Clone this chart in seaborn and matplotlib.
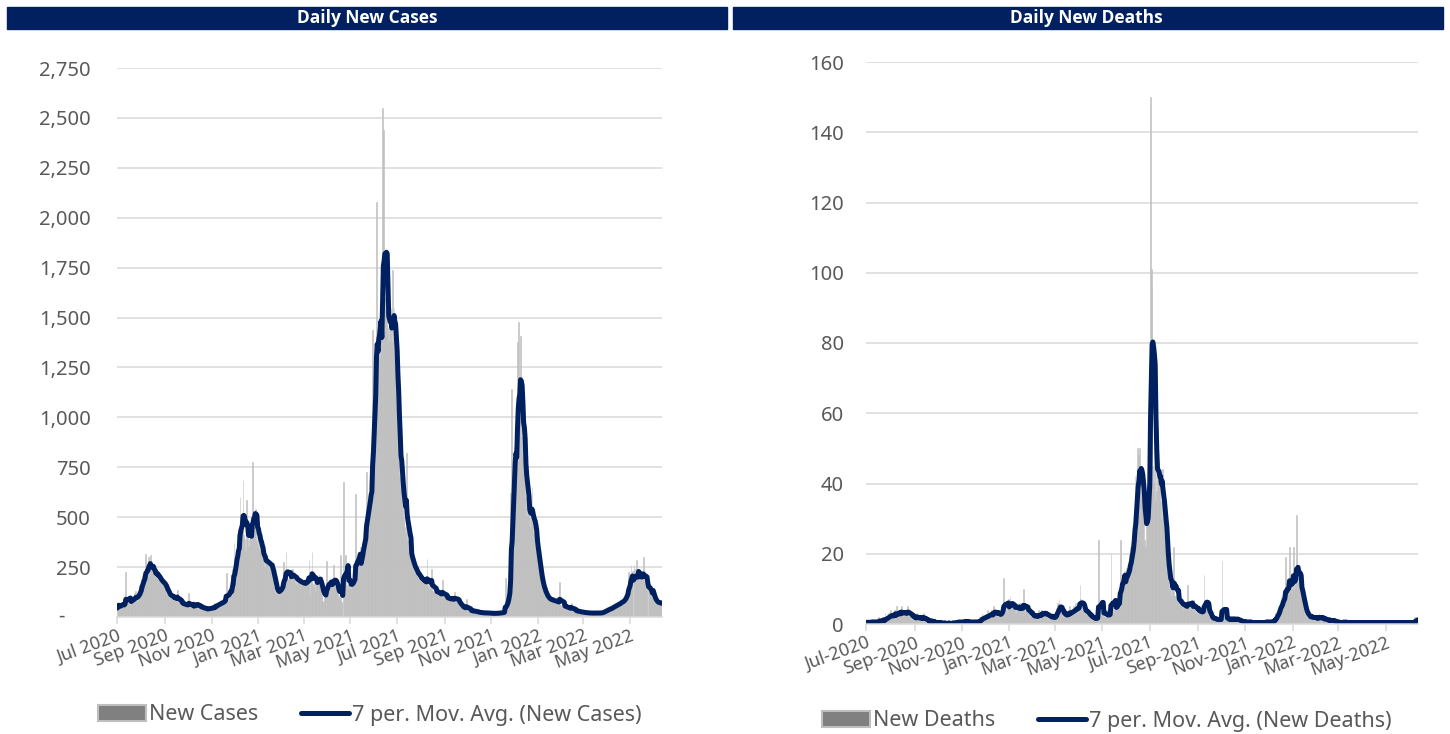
import numpy as np
import pandas as pd
import seaborn as sns
import matplotlib.pyplot as plt
import matplotlib.dates as mdates
from matplotlib.patches import Patch, Rectangle
from matplotlib.lines import Line2D

# daily values, one row = one week, first day 2020-07-01
start_date = "2020-07-01"

cases_daily = [
    45, 70, 62, 38, 55, 75, 68,
    60, 72, 55, 65, 225, 48, 70,
    78, 95, 62, 88, 102, 70, 90,
    92, 118, 85, 130, 96, 80, 112,
    125, 160, 148, 190, 210, 175, 185,
    205, 240, 318, 230, 265, 195, 300,
    255, 310, 225, 240, 215, 230, 205,
    225, 198, 240, 190, 215, 175, 192,
    180, 155, 190, 165, 178, 148, 170,
    140, 110, 125, 98, 130, 92, 112,
    105, 88, 115, 82, 96, 100, 80,
    92, 135, 70, 78, 85, 65, 72,
    70, 55, 68, 50, 75, 58, 60,
    65, 48, 122, 50, 55, 42, 45,
    60, 72, 55, 68, 58, 75, 50,
    55, 48, 62, 40, 52, 45, 50,
    42, 35, 48, 38, 45, 32, 40,
    50, 38, 55, 42, 48, 40, 42,
    55, 68, 50, 72, 58, 62, 55,
    70, 85, 65, 80, 78, 72, 75,
    90, 115, 220, 85, 95, 80, 105,
    140, 175, 210, 240, 195, 370, 150,
    300, 330, 420, 360, 390, 445, 602,
    480, 420, 520, 686, 410, 390, 330,
    586, 380, 430, 350, 390, 420, 400,
    460, 778, 520, 490, 440, 540, 380,
    420, 350, 480, 330, 360, 390, 310,
    300, 260, 290, 250, 310, 270, 280,
    290, 240, 265, 230, 280, 250, 265,
    180, 150, 130, 120, 145, 110, 145,
    125, 118, 140, 150, 165, 160, 195,
    277, 200, 190, 327, 210, 185, 190,
    230, 195, 220, 180, 240, 200, 205,
    200, 170, 210, 160, 190, 175, 190,
    180, 155, 185, 150, 175, 160, 185,
    170, 195, 160, 200, 180, 285, 110,
    200, 215, 327, 165, 150, 180, 128,
    210, 175, 200, 190, 215, 170, 170,
    120, 95, 80, 75, 140, 120, 140,
    280, 150, 165, 140, 160, 150, 180,
    190, 170, 260, 165, 175, 150, 150,
    120, 100, 110, 90, 310, 75, 70,
    0, 678, 190, 150, 310, 160, 140,
    175, 160, 190, 140, 185, 150, 170,
    200, 230, 250, 614, 210, 240, 200,
    280, 310, 350, 290, 340, 370, 380,
    420, 460, 480, 728, 510, 560, 520,
    600, 650, 700, 850, 1440, 1000, 1150,
    1250, 1350, 2080, 1300, 1180, 1420, 1300,
    1500, 1600, 1500, 2550, 2440, 1600, 1550,
    1500, 1650, 1450, 1420, 1380, 1500, 1450,
    1550, 1380, 1740, 1400, 1550, 1300, 1350,
    1050, 950, 900, 800, 700, 650, 600,
    878, 550, 500, 480, 450, 420, 820,
    380, 350, 330, 310, 300, 290, 270,
    260, 250, 240, 230, 220, 240, 210,
    200, 190, 220, 180, 190, 180, 190,
    170, 185, 175, 160, 170, 290, 150,
    165, 140, 160, 135, 240, 130, 125,
    140, 120, 135, 115, 125, 130, 110,
    120, 105, 115, 100, 185, 110, 95,
    100, 90, 105, 85, 95, 95, 90,
    85, 100, 80, 88, 92, 85, 127,
    80, 90, 75, 82, 78, 60, 55,
    50, 45, 55, 40, 48, 45, 40,
    90, 35, 38, 30, 35, 30, 28,
    35, 25, 30, 32, 26, 28, 24,
    26, 22, 25, 20, 23, 22, 20,
    24, 18, 21, 19, 22, 20, 18,
    22, 17, 20, 19, 18, 18, 20,
    17, 19, 16, 21, 18, 20, 18,
    22, 19, 21, 24, 20, 22, 25,
    24, 30, 195, 40, 60, 80, 110,
    150, 200, 620, 1140, 350, 800, 750,
    850, 900, 950, 1000, 1380, 1480, 1100,
    1000, 1410, 900, 850, 800, 750, 930,
    600, 550, 500, 600, 560, 500, 450,
    500, 520, 650, 500, 420, 400, 380,
    360, 340, 300, 260, 230, 200, 180,
    160, 150, 140, 130, 120, 110, 100,
    95, 90, 85, 95, 85, 90, 80,
    88, 75, 82, 80, 75, 85, 70,
    78, 65, 72, 177, 60, 58, 55,
    62, 50, 52, 50, 45, 52, 42,
    48, 40, 44, 38, 72, 35, 32,
    36, 30, 33, 30, 28, 26, 29,
    25, 27, 24, 25, 22, 24, 21,
    23, 20, 22, 20, 22, 19, 21,
    18, 20, 19, 21, 19, 22, 18,
    20, 19, 21, 20, 22, 18, 21,
    19, 23, 20, 25, 30, 28, 35,
    32, 38, 34, 40, 45, 38, 50,
    42, 48, 52, 55, 60, 52, 65,
    58, 62, 68, 70, 75, 68, 82,
    78, 85, 80, 90, 100, 110, 125,
    140, 150, 227, 170, 190, 262, 210,
    230, 0, 260, 240, 210, 287, 190,
    210, 200, 220, 190, 205, 185, 210,
    302, 175, 165, 195, 170, 185, 0,
    170, 160, 150, 140, 120, 100, 90,
    80, 75, 70, 80, 75, 70, 68,
    72, 65, 70, 62,
]

deaths_daily = [
    0, 1, 0, 1, 0, 1, 0,
    1, 0, 1, 0, 1, 0, 1,
    1, 0, 2, 1, 0, 1, 1,
    2, 1, 0, 3, 1, 2, 2,
    3, 2, 1, 4, 2, 3, 2,
    2, 4, 3, 1, 5, 2, 3,
    4, 3, 2, 5, 3, 2, 4,
    3, 4, 2, 3, 5, 3, 3,
    2, 3, 1, 2, 2, 3, 1,
    2, 1, 3, 2, 1, 2, 2,
    1, 2, 1, 2, 3, 1, 1,
    1, 0, 1, 1, 0, 2, 1,
    0, 1, 0, 0, 1, 0, 1,
    0, 0, 1, 0, 0, 1, 0,
    0, 0, 0, 1, 0, 0, 0,
    0, 1, 0, 0, 0, 0, 1,
    0, 0, 1, 0, 1, 0, 1,
    1, 0, 1, 0, 1, 0, 1,
    1, 1, 0, 1, 0, 1, 1,
    0, 1, 0, 1, 0, 1, 0,
    1, 0, 1, 0, 1, 0, 2,
    2, 1, 3, 1, 2, 1, 2,
    3, 2, 4, 1, 3, 2, 3,
    4, 3, 2, 5, 3, 4, 2,
    3, 2, 4, 3, 2, 3, 3,
    5, 6, 13, 4, 5, 3, 4,
    6, 7, 5, 8, 4, 6, 5,
    5, 4, 6, 3, 5, 6, 4,
    4, 6, 3, 5, 4, 5, 10,
    4, 3, 5, 4, 3, 5, 4,
    3, 2, 3, 2, 3, 2, 2,
    2, 3, 2, 1, 3, 4, 2,
    3, 2, 4, 3, 2, 4, 3,
    3, 2, 2, 3, 1, 3, 2,
    2, 1, 3, 2, 2, 1, 3,
    4, 6, 5, 7, 4, 5, 3,
    3, 2, 3, 2, 4, 2, 2,
    3, 4, 2, 5, 3, 3, 3,
    4, 5, 3, 6, 4, 5, 3,
    5, 6, 11, 7, 5, 4, 4,
    4, 3, 5, 2, 4, 3, 3,
    2, 1, 3, 2, 1, 2, 2,
    1, 2, 1, 2, 2, 24, 2,
    3, 4, 3, 5, 2, 3, 2,
    2, 3, 2, 4, 3, 2, 3,
    20, 4, 5, 3, 6, 4, 5,
    6, 5, 8, 7, 6, 24, 9,
    12, 14, 10, 15, 13, 11, 16,
    15, 18, 14, 20, 22, 16, 25,
    24, 28, 30, 42, 35, 40, 50,
    48, 40, 50, 38, 44, 36, 42,
    30, 24, 18, 22, 28, 40, 50,
    65, 55, 150, 101, 96, 45, 40,
    50, 35, 45, 38, 56, 42, 38,
    40, 35, 30, 44, 40, 30, 25,
    22, 18, 15, 16, 12, 10, 12,
    8, 14, 9, 7, 22, 8, 8,
    7, 9, 6, 7, 5, 6, 6,
    5, 7, 4, 6, 5, 4, 5,
    4, 11, 5, 6, 4, 5, 6,
    5, 4, 7, 5, 3, 4, 4,
    3, 5, 3, 4, 2, 4, 3,
    4, 14, 6, 5, 7, 4, 3,
    2, 2, 1, 3, 2, 1, 1,
    2, 1, 1, 2, 1, 1, 1,
    2, 1, 1, 18, 2, 3, 2,
    1, 1, 2, 1, 1, 2, 1,
    2, 1, 1, 2, 1, 1, 2,
    1, 1, 2, 1, 1, 0, 1,
    1, 0, 1, 1, 0, 1, 0,
    1, 0, 1, 0, 1, 0, 1,
    0, 0, 1, 0, 1, 0, 0,
    1, 0, 1, 0, 0, 1, 0,
    1, 0, 1, 0, 1, 0, 1,
    0, 1, 0, 1, 1, 0, 1,
    2, 1, 3, 2, 4, 3, 4,
    5, 6, 8, 5, 7, 9, 7,
    9, 19, 8, 10, 7, 11, 22,
    9, 11, 11, 10, 22, 10, 12,
    13, 31, 12, 13, 10, 12, 10,
    9, 7, 6, 5, 3, 4, 3,
    2, 2, 3, 2, 1, 2, 2,
    3, 1, 2, 2, 1, 2, 2,
    1, 2, 3, 1, 2, 2, 1,
    2, 1, 1, 2, 1, 1, 1,
    1, 0, 2, 1, 1, 1, 1,
    0, 1, 1, 0, 1, 0, 0,
    1, 0, 0, 1, 0, 1, 1,
    0, 0, 1, 0, 0, 1, 0,
    1, 0, 0, 1, 0, 0, 1,
    0, 1, 0, 0, 1, 0, 0,
    1, 0, 1, 0, 0, 1, 0,
    0, 1, 0, 0, 1, 0, 1,
    0, 0, 1, 0, 0, 1, 0,
    1, 0, 0, 1, 0, 1, 0,
    0, 1, 0, 0, 1, 0, 0,
    1, 0, 1, 0, 0, 1, 0,
    0, 1, 0, 0, 1, 0, 1,
    0, 0, 1, 0, 1, 0, 0,
    1, 0, 0, 1, 0, 0, 1,
    0, 1, 0, 0, 1, 0, 2,
    1, 1, 2, 1,
]

case_ticks = [0, 250, 500, 750, 1000, 1250, 1500, 1750, 2000, 2250, 2500, 2750]
death_ticks = [0, 20, 40, 60, 80, 100, 120, 140, 160]

NAVY = "#002060"
BAR = "#BFBFBF"
GRID = "#D9D9D9"
TXT = "#595959"

df = pd.DataFrame({
    "date": pd.date_range(start_date, periods=len(cases_daily), freq="D"),
    "cases": cases_daily,
    "deaths": deaths_daily,
})
# excel "7 per. Mov. Avg." trendline = trailing 7 day mean
df["cases_ma"] = df["cases"].rolling(7, min_periods=1).mean()
df["deaths_ma"] = df["deaths"].rolling(7, min_periods=1).mean()

sns.set_theme(style="white")
plt.rcParams["font.family"] = ["Noto Sans", "DejaVu Sans"]

W, H = 1450, 734
fig = plt.figure(figsize=(W / 100, H / 100), dpi=100)
fig.patch.set_facecolor("white")


def px(x0, y0, x1, y1):
    return [x0 / W, 1 - y1 / H, (x1 - x0) / W, (y1 - y0) / H]


ax1 = fig.add_axes(px(117, 68, 662, 617))
ax2 = fig.add_axes(px(866, 62, 1418, 624))


def panel(ax, col, ma_col, ticks, datefmt, ypad):
    ax.bar(df["date"], df[col], width=1.0, color=BAR, edgecolor=BAR,
           linewidth=0.4, zorder=2)
    sns.lineplot(data=df, x="date", y=ma_col, ax=ax, color=NAVY,
                 linewidth=3.6, legend=False, zorder=3)
    ax.set_ylim(ticks[0], ticks[-1])
    ax.set_yticks(ticks)
    ax.set_xlim(df["date"].iloc[0] - pd.Timedelta(hours=12),
                df["date"].iloc[-1] + pd.Timedelta(hours=12))
    ax.xaxis.set_major_locator(mdates.MonthLocator(bymonth=[1, 3, 5, 7, 9, 11]))
    ax.xaxis.set_major_formatter(mdates.DateFormatter(datefmt))
    ax.yaxis.grid(True, color=GRID, linewidth=1.1, zorder=0)
    ax.set_axisbelow(True)
    for s in ["left", "right", "top"]:
        ax.spines[s].set_visible(False)
    ax.spines["bottom"].set_color(GRID)
    ax.spines["bottom"].set_linewidth(1.1)
    ax.spines["bottom"].set_zorder(4)
    ax.tick_params(axis="x", direction="out", length=5, width=1.1, color=GRID,
                   labelcolor=TXT, labelsize=13, pad=2, bottom=True)
    ax.tick_params(axis="y", length=0, labelcolor=TXT, labelsize=14.5, pad=ypad)
    plt.setp(ax.get_xticklabels(), rotation=20, ha="right", rotation_mode="anchor")
    ax.set_xlabel("")
    ax.set_ylabel("")


panel(ax1, "cases", "cases_ma", case_ticks, "%b %Y", 19)
panel(ax2, "deaths", "deaths_ma", death_ticks, "%b-%Y", 16)

# accounting style labels on the cases axis, zero shown as a dash
ax1.set_yticklabels(["" if t == 0 else f"{t:,}" for t in case_ticks])
ax1.annotate("-", xy=(0, 0), xycoords=("axes fraction", "data"),
             xytext=(-40, 0), textcoords="offset points",
             ha="center", va="center", color=TXT, fontsize=14.5)

# title bars
fig.add_artist(Rectangle((7 / W, 1 - 29 / H), 720 / W, 22 / H,
                         transform=fig.transFigure, color=NAVY, zorder=0))
fig.add_artist(Rectangle((733 / W, 1 - 29 / H), 710 / W, 22 / H,
                         transform=fig.transFigure, color=NAVY, zorder=0))
for xc, title in [(367, "Daily New Cases"), (1086, "Daily New Deaths")]:
    fig.text(xc / W, 1 - 18 / H, title, ha="center", va="center",
             color="white", fontsize=12.5, fontweight="bold",
             family=["Open Sans", "DejaVu Sans"])


# legends
def legend(ax, label_bar, label_line, x, y):
    handles = [Patch(facecolor="#808080", edgecolor="#BFBFBF", linewidth=1.5),
               Line2D([0], [0], color=NAVY, linewidth=3.6)]
    ax.legend(handles, [label_bar, label_line], loc="center",
              bbox_to_anchor=(x / W, 1 - y / H), bbox_transform=fig.transFigure,
              ncol=2, frameon=False, fontsize=15.5, labelcolor=TXT,
              handlelength=2.2, handleheight=0.7, handletextpad=0.15,
              columnspacing=2.0)


legend(ax1, "New Cases", "7 per. Mov. Avg. (New Cases)", 370, 715)
legend(ax2, "New Deaths", "7 per. Mov. Avg. (New Deaths)", 1107, 721)

fig.savefig("out.png", dpi=100, facecolor="white")
